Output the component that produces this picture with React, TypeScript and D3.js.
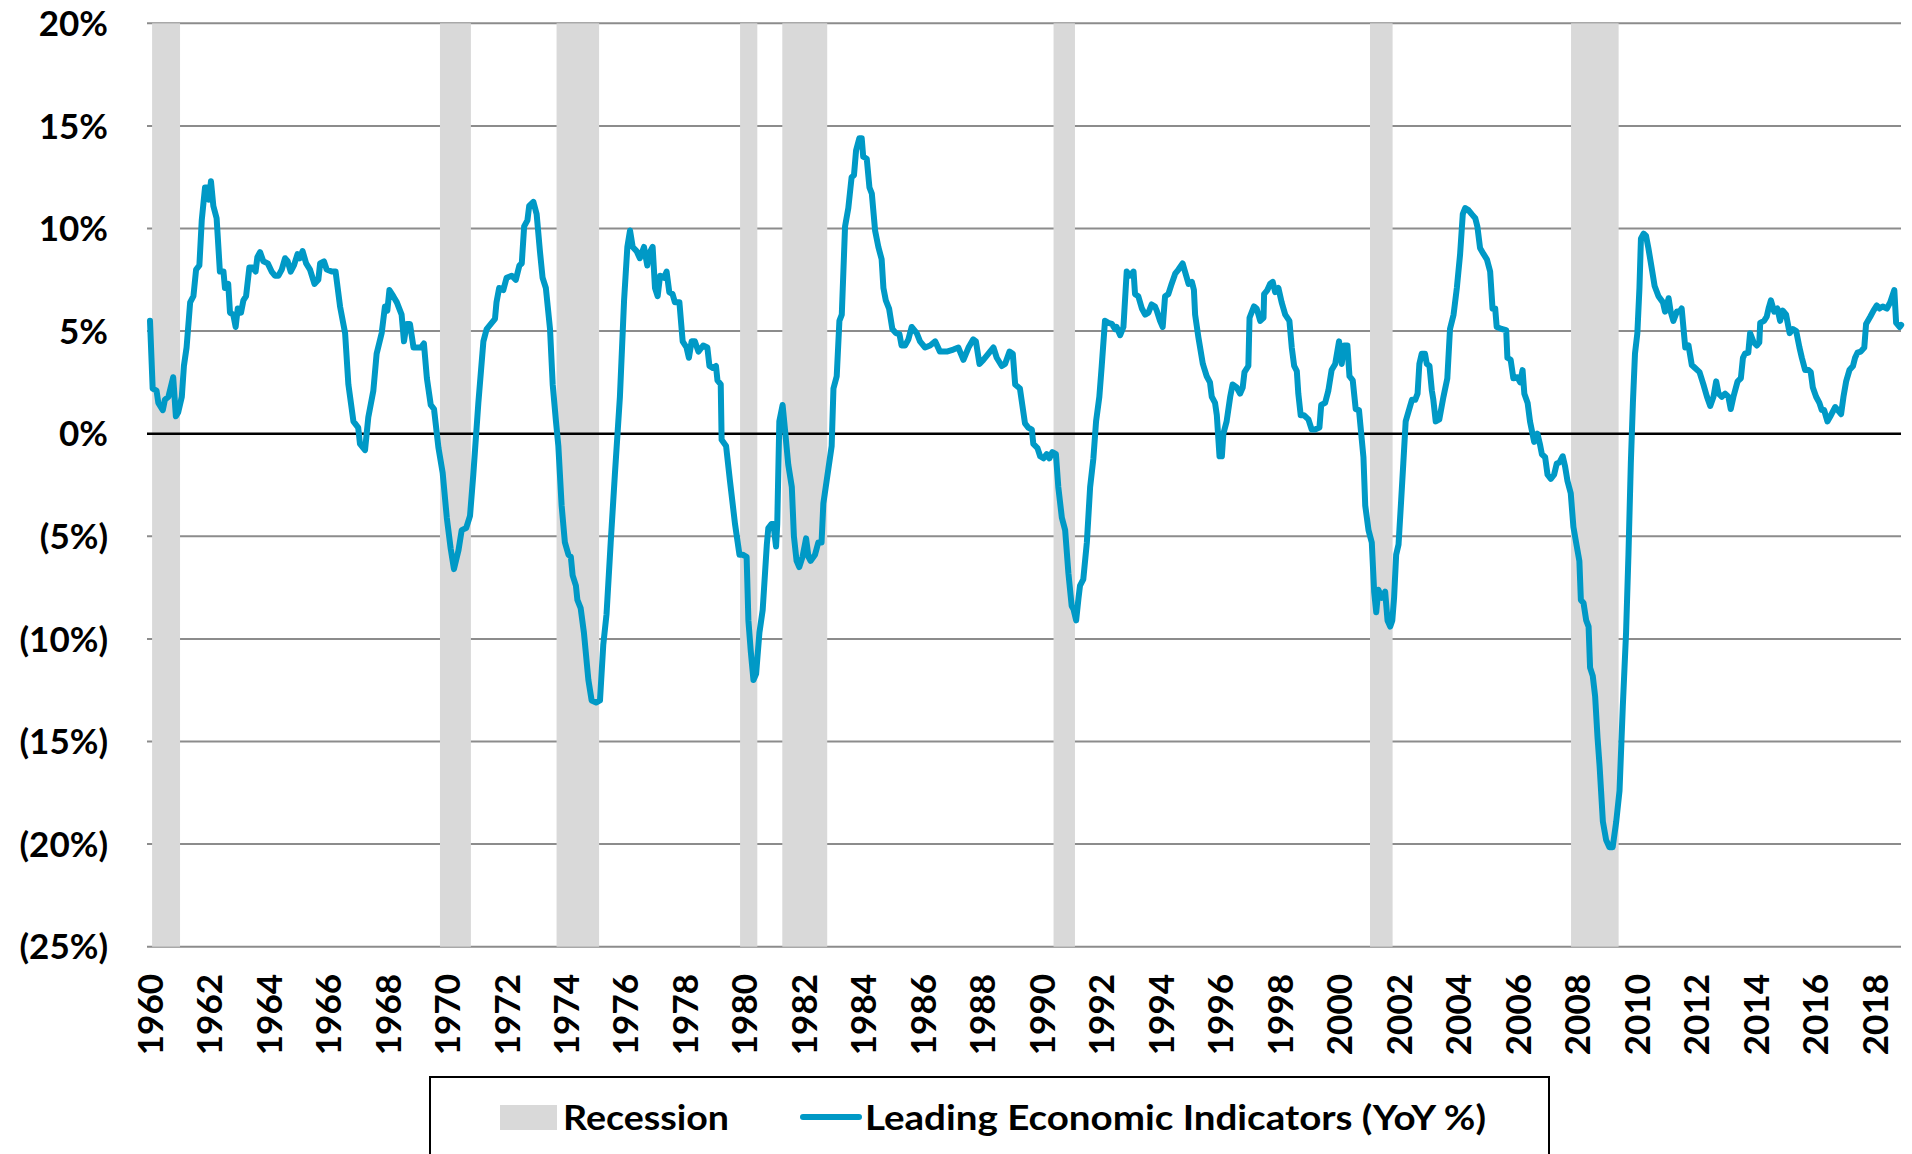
import React from "react";
import * as d3 from "d3";

const W = 1912;
const H = 1154;

const LINE_COLOR = "#0099c6";
const BAND_COLOR = "#d9d9d9";
const FONT = "Lato, 'Open Sans', sans-serif";

// y axis ticks (percent) and x axis label years
const yTicks = [20, 15, 10, 5, 0, -5, -10, -15, -20, -25];
const xTickYears = d3.range(1960, 2019, 2);

// recession shading, start / end as decimal years
const recessions: [number, number][] = [
  [1960.07, 1961.01],
  [1969.75, 1970.79],
  [1973.67, 1975.1],
  [1979.84, 1980.42],
  [1981.26, 1982.77],
  [1990.38, 1991.1],
  [2001.02, 2001.78],
  [2007.78, 2009.38],
];

// Leading Economic Indicators, YoY %  [decimal year, value]
const lei: [number, number][] = [
  [1960.0, 5.5], [1960.09, 2.2], [1960.22, 2.1], [1960.28, 1.5], [1960.43, 1.15], [1960.5, 1.65],
  [1960.62, 1.8], [1960.78, 2.75], [1960.87, 0.85], [1960.95, 1.05], [1961.07, 1.8], [1961.14, 3.3],
  [1961.23, 4.2], [1961.35, 6.4], [1961.46, 6.7], [1961.55, 8.0], [1961.66, 8.2], [1961.74, 10.4],
  [1961.85, 12.0], [1961.94, 12.0], [1961.98, 11.4], [1962.05, 12.3], [1962.13, 11.1], [1962.24, 10.5],
  [1962.35, 7.9], [1962.47, 7.9], [1962.52, 7.1], [1962.63, 7.3], [1962.69, 5.9], [1962.8, 5.8],
  [1962.88, 5.2], [1962.95, 6.1], [1963.06, 5.9], [1963.14, 6.5], [1963.23, 6.7], [1963.34, 8.1],
  [1963.45, 8.1], [1963.55, 7.9], [1963.61, 8.6], [1963.7, 8.85], [1963.81, 8.4], [1963.96, 8.3],
  [1964.09, 7.9], [1964.2, 7.7], [1964.32, 7.7], [1964.43, 8.0], [1964.54, 8.55], [1964.63, 8.4],
  [1964.73, 7.9], [1964.84, 8.2], [1964.96, 8.75], [1965.04, 8.55], [1965.13, 8.9], [1965.25, 8.3],
  [1965.38, 8.0], [1965.53, 7.3], [1965.66, 7.5], [1965.72, 8.3], [1965.85, 8.4], [1965.94, 8.0],
  [1966.11, 7.9], [1966.24, 7.9], [1966.39, 6.2], [1966.56, 4.9], [1966.67, 2.4], [1966.84, 0.6],
  [1967.0, 0.3], [1967.06, -0.5], [1967.23, -0.8], [1967.34, 0.8], [1967.51, 2.1], [1967.62, 3.9],
  [1967.79, 4.9], [1967.9, 6.2], [1967.98, 6.0], [1968.05, 7.0], [1968.18, 6.7], [1968.3, 6.4],
  [1968.46, 5.8], [1968.54, 4.5], [1968.63, 5.35], [1968.74, 5.35], [1968.86, 4.2], [1968.97, 4.2],
  [1969.11, 4.2], [1969.21, 4.4], [1969.31, 2.7], [1969.44, 1.4], [1969.55, 1.2], [1969.7, -0.7],
  [1969.84, -1.9], [1969.98, -4.1], [1970.11, -5.6], [1970.22, -6.6], [1970.37, -5.7], [1970.48, -4.7],
  [1970.63, -4.6], [1970.76, -4.0], [1970.87, -2.0], [1971.04, 1.5], [1971.21, 4.5], [1971.32, 5.1],
  [1971.49, 5.4], [1971.6, 5.6], [1971.65, 6.4], [1971.74, 7.1], [1971.88, 7.0], [1971.99, 7.6],
  [1972.16, 7.7], [1972.3, 7.5], [1972.42, 8.2], [1972.5, 8.3], [1972.58, 10.1], [1972.69, 10.4],
  [1972.75, 11.1], [1972.89, 11.3], [1973.0, 10.7], [1973.11, 8.9], [1973.2, 7.6], [1973.31, 7.1],
  [1973.45, 5.1], [1973.54, 2.4], [1973.65, 0.6], [1973.73, -0.6], [1973.84, -3.5], [1973.95, -5.3],
  [1974.07, -5.9], [1974.15, -6.0], [1974.21, -6.9], [1974.32, -7.4], [1974.37, -8.1], [1974.48, -8.5],
  [1974.59, -9.7], [1974.74, -12.0], [1974.85, -13.0], [1975.0, -13.1], [1975.13, -13.0], [1975.24, -10.3],
  [1975.35, -8.8], [1975.49, -5.3], [1975.63, -2.0], [1975.8, 1.8], [1975.94, 6.5], [1976.05, 9.1],
  [1976.14, 9.9], [1976.23, 9.1], [1976.36, 8.9], [1976.47, 8.55], [1976.61, 9.1], [1976.72, 8.2],
  [1976.79, 8.8], [1976.9, 9.1], [1976.98, 7.1], [1977.07, 6.7], [1977.15, 7.7], [1977.28, 7.6],
  [1977.37, 7.9], [1977.46, 6.9], [1977.57, 6.8], [1977.65, 6.4], [1977.8, 6.4], [1977.91, 4.5],
  [1978.04, 4.2], [1978.12, 3.7], [1978.21, 4.5], [1978.32, 4.5], [1978.44, 4.0], [1978.6, 4.3],
  [1978.74, 4.2], [1978.81, 3.3], [1978.92, 3.2], [1979.03, 3.3], [1979.08, 2.6], [1979.19, 2.4],
  [1979.22, -0.3], [1979.37, -0.6], [1979.5, -2.3], [1979.67, -4.4], [1979.82, -5.9], [1979.93, -5.9],
  [1980.06, -6.0], [1980.12, -9.1], [1980.2, -10.6], [1980.29, -12.0], [1980.38, -11.7], [1980.49, -9.7],
  [1980.6, -8.6], [1980.74, -5.4], [1980.79, -4.6], [1980.9, -4.4], [1980.96, -4.4], [1981.05, -5.5],
  [1981.09, -4.4], [1981.16, 0.6], [1981.27, 1.4], [1981.35, 0.2], [1981.46, -1.5], [1981.58, -2.6],
  [1981.65, -5.0], [1981.74, -6.2], [1981.83, -6.5], [1981.94, -6.0], [1982.06, -5.1], [1982.14, -6.0],
  [1982.21, -6.2], [1982.36, -5.9], [1982.47, -5.3], [1982.58, -5.3], [1982.64, -3.4], [1982.81, -1.7],
  [1982.92, -0.6], [1982.98, 2.2], [1983.09, 2.8], [1983.18, 5.5], [1983.26, 5.8], [1983.37, 10.1],
  [1983.48, 11.0], [1983.59, 12.5], [1983.67, 12.6], [1983.74, 13.8], [1983.85, 14.4], [1983.93, 14.4],
  [1983.98, 13.5], [1984.1, 13.4], [1984.19, 12.0], [1984.27, 11.7], [1984.38, 9.9], [1984.49, 9.1],
  [1984.6, 8.5], [1984.66, 7.1], [1984.74, 6.5], [1984.85, 6.1], [1984.96, 5.1], [1985.08, 4.9],
  [1985.2, 4.85], [1985.27, 4.3], [1985.39, 4.3], [1985.5, 4.6], [1985.61, 5.2], [1985.78, 4.9],
  [1985.89, 4.5], [1986.06, 4.2], [1986.23, 4.3], [1986.4, 4.5], [1986.56, 4.0], [1986.79, 4.0],
  [1987.01, 4.1], [1987.18, 4.2], [1987.35, 3.6], [1987.52, 4.2], [1987.68, 4.6], [1987.77, 4.5],
  [1987.89, 3.4], [1988.02, 3.6], [1988.19, 3.9], [1988.36, 4.2], [1988.47, 3.7], [1988.64, 3.3],
  [1988.75, 3.4], [1988.9, 4.0], [1989.01, 3.9], [1989.09, 2.4], [1989.25, 2.2], [1989.42, 0.5],
  [1989.53, 0.3], [1989.65, 0.2], [1989.7, -0.5], [1989.84, -0.7], [1989.93, -1.1], [1990.04, -1.2],
  [1990.15, -1.0], [1990.24, -1.2], [1990.34, -0.9], [1990.46, -1.0], [1990.54, -2.6], [1990.66, -4.1],
  [1990.77, -4.7], [1990.88, -6.8], [1990.99, -8.4], [1991.05, -8.55], [1991.14, -9.1], [1991.22, -8.0],
  [1991.27, -7.4], [1991.38, -7.1], [1991.5, -5.3], [1991.61, -2.6], [1991.72, -1.2], [1991.81, 0.6],
  [1991.92, 1.8], [1992.0, 3.3], [1992.11, 5.5], [1992.22, 5.4], [1992.34, 5.35], [1992.45, 5.1],
  [1992.5, 5.2], [1992.62, 4.8], [1992.73, 5.2], [1992.84, 7.9], [1992.95, 7.7], [1993.07, 7.9],
  [1993.12, 6.8], [1993.23, 6.7], [1993.35, 6.1], [1993.46, 5.8], [1993.57, 5.9], [1993.68, 6.3],
  [1993.79, 6.2], [1993.85, 6.0], [1993.96, 5.5], [1994.05, 5.2], [1994.13, 6.7], [1994.24, 6.8],
  [1994.35, 7.3], [1994.47, 7.8], [1994.58, 8.0], [1994.72, 8.3], [1994.8, 7.9], [1994.92, 7.3],
  [1995.03, 7.4], [1995.1, 7.0], [1995.14, 5.8], [1995.25, 4.7], [1995.4, 3.4], [1995.53, 2.8],
  [1995.64, 2.5], [1995.7, 1.8], [1995.81, 1.5], [1995.87, 0.9], [1995.96, -1.1], [1996.04, -1.1],
  [1996.09, 0.0], [1996.2, 0.6], [1996.32, 1.8], [1996.4, 2.4], [1996.54, 2.25], [1996.65, 1.95],
  [1996.74, 2.25], [1996.8, 3.0], [1996.93, 3.3], [1996.97, 5.65], [1997.12, 6.2], [1997.21, 6.1],
  [1997.33, 5.5], [1997.44, 5.65], [1997.46, 6.8], [1997.57, 7.0], [1997.66, 7.3], [1997.75, 7.4],
  [1997.83, 6.9], [1997.94, 7.1], [1998.05, 6.4], [1998.17, 5.8], [1998.31, 5.5], [1998.39, 4.2],
  [1998.47, 3.3], [1998.56, 3.05], [1998.61, 1.95], [1998.69, 0.9], [1998.8, 0.9], [1998.95, 0.7],
  [1999.06, 0.2], [1999.17, 0.2], [1999.32, 0.3], [1999.38, 1.4], [1999.51, 1.5], [1999.62, 2.1],
  [1999.73, 3.1], [1999.85, 3.4], [1999.98, 4.5], [2000.07, 3.4], [2000.15, 4.3], [2000.26, 4.3],
  [2000.33, 2.8], [2000.44, 2.6], [2000.54, 1.2], [2000.65, 1.15], [2000.8, -1.15], [2000.86, -3.5],
  [2000.97, -4.7], [2001.08, -5.3], [2001.16, -7.7], [2001.23, -8.7], [2001.3, -7.6], [2001.42, -8.0],
  [2001.53, -7.7], [2001.61, -9.1], [2001.7, -9.4], [2001.77, -9.1], [2001.83, -8.0], [2001.9, -5.9],
  [2001.98, -5.4], [2002.07, -3.2], [2002.14, -1.45], [2002.22, 0.6], [2002.31, 1.05], [2002.43, 1.65],
  [2002.54, 1.65], [2002.62, 1.95], [2002.68, 3.4], [2002.76, 3.9], [2002.87, 3.9], [2002.93, 3.4],
  [2003.02, 3.3], [2003.1, 2.1], [2003.15, 1.65], [2003.23, 0.6], [2003.35, 0.7], [2003.49, 1.8],
  [2003.62, 2.7], [2003.71, 5.1], [2003.83, 5.8], [2003.94, 7.1], [2004.05, 8.75], [2004.14, 10.7],
  [2004.22, 11.0], [2004.33, 10.9], [2004.44, 10.7], [2004.56, 10.5], [2004.63, 10.1], [2004.72, 9.05],
  [2004.84, 8.75], [2004.95, 8.5], [2005.06, 7.9], [2005.14, 6.1], [2005.23, 6.1], [2005.28, 5.2],
  [2005.45, 5.1], [2005.6, 5.05], [2005.64, 3.7], [2005.75, 3.6], [2005.84, 2.7], [2005.98, 2.75],
  [2006.07, 2.5], [2006.15, 3.1], [2006.21, 1.95], [2006.32, 1.5], [2006.4, 0.6], [2006.54, -0.4],
  [2006.65, 0.0], [2006.74, -0.55], [2006.8, -1.0], [2006.91, -1.15], [2006.99, -2.0], [2007.1, -2.2],
  [2007.21, -2.0], [2007.3, -1.45], [2007.39, -1.4], [2007.5, -1.1], [2007.58, -1.6], [2007.66, -2.3],
  [2007.77, -2.9], [2007.86, -4.55], [2007.95, -5.3], [2008.06, -6.2], [2008.11, -8.1], [2008.2, -8.25],
  [2008.29, -9.1], [2008.37, -9.4], [2008.42, -11.4], [2008.51, -11.8], [2008.59, -12.8], [2008.67, -14.8],
  [2008.74, -16.2], [2008.85, -18.9], [2008.96, -19.8], [2009.07, -20.15], [2009.18, -20.15], [2009.3, -18.9],
  [2009.41, -17.4], [2009.52, -13.3], [2009.63, -9.7], [2009.71, -5.9], [2009.79, -1.45], [2009.86, 1.5],
  [2009.93, 3.9], [2010.01, 4.9], [2010.08, 7.1], [2010.13, 9.5], [2010.22, 9.75], [2010.3, 9.65],
  [2010.38, 9.05], [2010.5, 8.0], [2010.59, 7.2], [2010.72, 6.7], [2010.87, 6.4], [2010.94, 5.95],
  [2011.06, 6.6], [2011.13, 5.95], [2011.22, 5.5], [2011.34, 5.95], [2011.43, 5.95], [2011.5, 6.1],
  [2011.62, 4.2], [2011.73, 4.3], [2011.84, 3.35], [2011.95, 3.2], [2012.1, 3.0], [2012.23, 2.4],
  [2012.35, 1.8], [2012.46, 1.35], [2012.57, 1.8], [2012.66, 2.55], [2012.74, 1.95], [2012.85, 1.8],
  [2012.96, 1.95], [2013.07, 1.8], [2013.15, 1.2], [2013.24, 1.8], [2013.38, 2.55], [2013.49, 2.7],
  [2013.56, 3.7], [2013.63, 3.9], [2013.74, 3.95], [2013.8, 4.9], [2013.92, 4.45], [2014.03, 4.3],
  [2014.11, 4.45], [2014.14, 5.4], [2014.27, 5.5], [2014.36, 5.7], [2014.42, 6.1], [2014.5, 6.5],
  [2014.61, 5.95], [2014.72, 6.1], [2014.81, 5.5], [2014.9, 6.0], [2015.01, 5.8], [2015.13, 4.9],
  [2015.24, 5.1], [2015.35, 5.0], [2015.46, 4.2], [2015.54, 3.7], [2015.65, 3.1], [2015.77, 3.1],
  [2015.84, 3.0], [2015.91, 2.25], [2016.02, 1.8], [2016.13, 1.5], [2016.21, 1.15], [2016.29, 1.15],
  [2016.4, 0.6], [2016.52, 0.9], [2016.66, 1.3], [2016.75, 1.15], [2016.86, 0.95], [2016.94, 1.8],
  [2017.03, 2.55], [2017.14, 3.1], [2017.26, 3.3], [2017.33, 3.7], [2017.41, 3.95], [2017.52, 4.0],
  [2017.64, 4.2], [2017.7, 5.35], [2017.84, 5.7], [2017.95, 6.0], [2018.06, 6.25], [2018.15, 6.1],
  [2018.26, 6.2], [2018.4, 6.1], [2018.51, 6.4], [2018.65, 7.0], [2018.71, 5.4], [2018.83, 5.2],
  [2018.88, 5.3],
];

const fmtPct = (v: number) => (v < 0 ? `(${-v}%)` : `${v}%`);

export default function App() {
  // plot area
  const left = 147;
  const right = 1901;
  const top = 23.3;
  const bottom = 946.7;

  const x = d3.scaleLinear().domain([1960, 2018]).range([150, 1875]);
  const y = d3.scaleLinear().domain([-25, 20]).range([bottom, top]);

  const linePath = d3
    .line<[number, number]>()
    .x((d) => x(d[0]))
    .y((d) => y(d[1]))(lei);

  return (
    <svg
      width={W}
      height={H}
      style={{ position: "absolute", left: 0, top: 0, background: "#fff" }}
      xmlns="http://www.w3.org/2000/svg"
    >
      {/* gridlines */}
      {yTicks
        .filter((t) => t !== 0)
        .map((t) => (
          <line key={t} x1={left} x2={right} y1={y(t)} y2={y(t)} stroke="#8c8c8c" strokeWidth={2} />
        ))}

      {/* recession bands */}
      {recessions.map(([s, e]) => (
        <rect key={s} x={x(s)} y={top} width={x(e) - x(s)} height={bottom - top} fill={BAND_COLOR} />
      ))}

      {/* zero line */}
      <line x1={left} x2={right} y1={y(0)} y2={y(0)} stroke="#000" strokeWidth={2.5} />

      {/* series */}
      <path
        d={linePath || ""}
        fill="none"
        stroke={LINE_COLOR}
        strokeWidth={6}
        strokeLinejoin="round"
        strokeLinecap="round"
      />

      {/* y labels */}
      {yTicks.map((t) => (
        <text
          key={t}
          x={108}
          y={y(t)}
          dy="0.36em"
          textAnchor="end"
          fontFamily={FONT}
          fontWeight="bold"
          fontSize={35}
          fill="#000"
        >
          {fmtPct(t)}
        </text>
      ))}

      {/* x labels */}
      {xTickYears.map((yr) => (
        <text
          key={yr}
          transform={`translate(${x(yr)},974) rotate(-90)`}
          dy="0.36em"
          textAnchor="end"
          fontFamily={FONT}
          fontWeight="bold"
          fontSize={35}
          fill="#000"
        >
          {yr}
        </text>
      ))}

      {/* legend */}
      <rect x={430} y={1077} width={1119} height={120} fill="#fff" stroke="#000" strokeWidth={2} />
      <rect x={500} y={1105} width={57} height={25} fill={BAND_COLOR} />
      <text
        x={563}
        y={1130}
        fontFamily={FONT}
        fontWeight="bold"
        fontSize={35}
        textLength={166}
        lengthAdjust="spacingAndGlyphs"
      >
        Recession
      </text>
      <line x1={803} x2={859} y1={1117} y2={1117} stroke={LINE_COLOR} strokeWidth={6} strokeLinecap="round" />
      <text
        x={865}
        y={1130}
        fontFamily={FONT}
        fontWeight="bold"
        fontSize={35}
        textLength={621}
        lengthAdjust="spacingAndGlyphs"
      >
        Leading Economic Indicators (YoY %)
      </text>
    </svg>
  );
}
